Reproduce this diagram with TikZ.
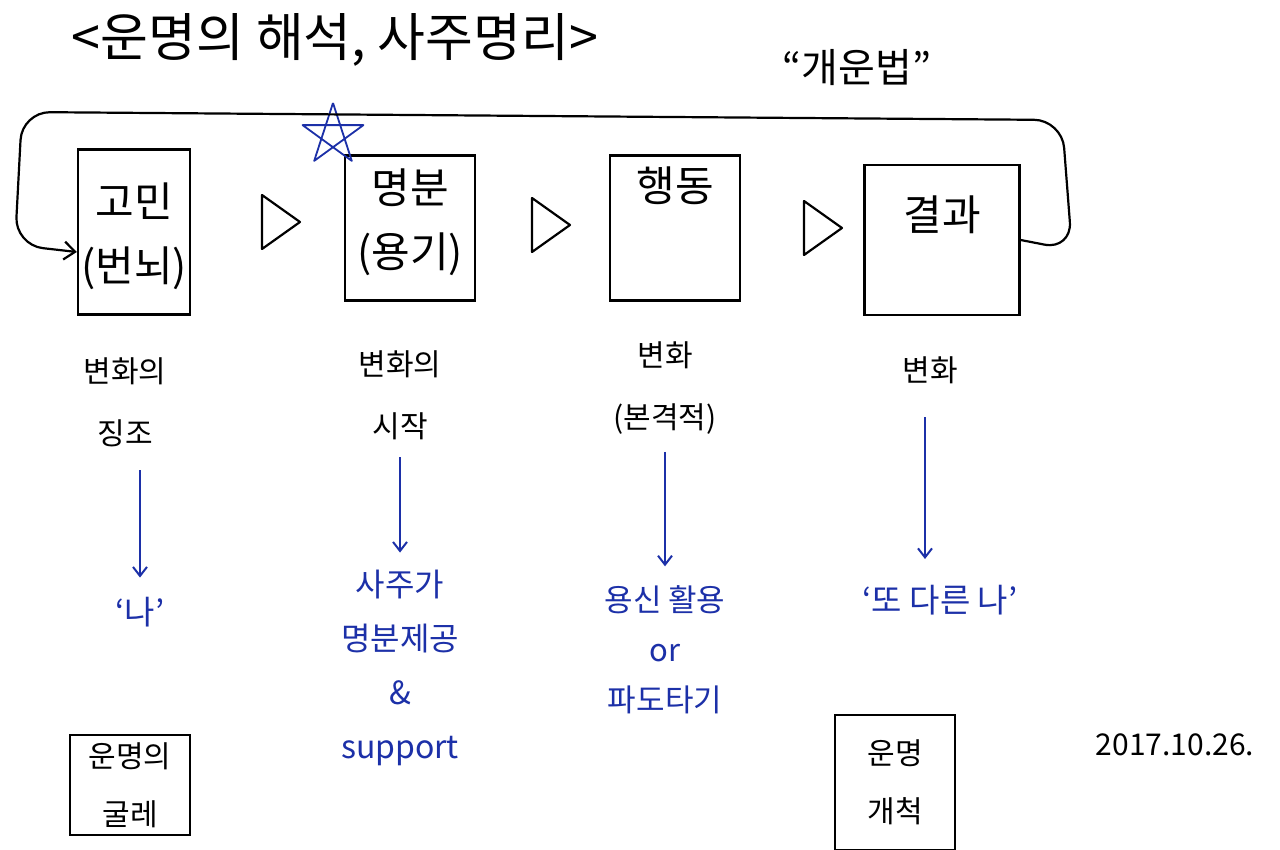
\documentclass[tikz,border=0pt]{standalone}
\usepackage{fontspec}
\setmainfont{Noto Sans CJK KR}
\usepackage{tikz}
\usetikzlibrary{arrows.meta,positioning,calc}
\definecolor{penblue}{RGB}{28,48,168}

\begin{document}
\begin{tikzpicture}[x=1pt, y=-1pt,
      big/.style={font=\fontsize{42}{64}\selectfont, align=center},
      mid/.style={font=\fontsize{30}{62}\selectfont, align=center},
      note/.style={font=\fontsize{33}{52}\selectfont, align=center, text=penblue},
      stagebox/.style={draw, line width=2.4pt, minimum width=#1},
      smallbox/.style={draw, line width=2pt, align=center,
                       font=\fontsize{30}{58}\selectfont},
      bluearr/.style={draw=penblue, line width=2pt, -{Straight Barb[length=9pt,width=14pt]},
                      shorten <=20pt, shorten >=16pt},
      loopline/.style={line width=2.2pt, rounded corners=28pt,
                       -{Straight Barb[length=11pt,width=18pt]}}]

    %% canvas = the 1280 x 850 sheet, y counted downwards
    \useasboundingbox[fill=white] (0,0) rectangle (1280,850);

    %% ---- heading ----
    \node[font=\fontsize{52}{60}\selectfont] (ttl) at (335,40) {<운명의 해석, 사주명리>};
    \node[font=\fontsize{40}{48}\selectfont] (gae) at (857,68) {“개운법”};

    %% ---- the four stages ----
    \node[stagebox=112pt, minimum height=165pt] (s1) at (134,232) {};
    \node[stagebox=130pt, minimum height=145pt] (s2) at (410,228) {};
    \node[stagebox=130pt, minimum height=145pt] (s3) at (675,228) {};
    \node[stagebox=155pt, minimum height=150pt] (s4) at (942,240) {};

    \node[big] (t1) at (134,236) {고민\\(번뇌)};
    \node[big] (t2) at (410,222) {명분\\(용기)};
    \node[big] (t3) at (675,186) {행동};
    \node[big] (t4) at (942,215) {결과};

    %% hollow wedges between the stages
    \foreach \cx/\cy in {280/222, 550/225, 822/228}
      \draw[line width=2.2pt, line join=round]
        (\cx-18,\cy-27) -- (\cx+20,\cy) -- (\cx-18,\cy+27) -- cycle;

    %% star on the second stage
    \coordinate (star) at (333,135);
    \draw[penblue, line width=1.8pt, line join=round]
      ($(star)+(-90:32)$) \foreach \k in {1,...,5}{ -- ($(star)+({-90+144*\k}:32)$) };

    %% the loop back from the result to the worry
    \draw[loopline] (s4.east) -- (1072,250) -- (1062,120) -- (22,112)
      -- (15,245) -- (s1.west |- 0,252);

    %% ---- what each stage means ----
    \node[mid] (m1) at (125,402) {변화의\\징조};
    \node[mid] (m2) at (400,395) {변화의\\시작};
    \node[mid] (m3) at (665,388) {변화\\(본격적)};
    \node[mid] (m4) at (930,370) {변화};

    \node[note] (n1) at (140,612) {‘나’};
    \node[note, font=\fontsize{32}{54}\selectfont] (n2) at (400,668)
      {사주가\\명분제공\\\&\\support};
    \node[note, font=\fontsize{31}{50}\selectfont] (n3) at (665,650) {용신 활용\\or\\파도타기};
    \node[note] (n4) at (940,600) {‘또 다른 나’};

    \draw[bluearr] (m1.south -| n1) -- (n1);
    \draw[bluearr, shorten >=14pt, shorten <=14pt] (m2.south) -- (n2.north);
    \draw[bluearr, shorten <=14pt] (m3.south) -- (n3.north);
    \draw[bluearr, shorten <=30pt] (m4.south -| 925,0) -- (925,575);

    %% ---- fate, bound and opened ----
    \node[smallbox, minimum width=120pt, minimum height=100pt] (f1) at (130,785) {운명의\\굴레};
    \node[smallbox, minimum width=120pt, minimum height=135pt] (f2) at (895,782) {운명\\개척};

    \node[font=\fontsize{30}{34}\selectfont] (date) at (1175,745) {2017.10.26.};
\end{tikzpicture}
\end{document}
